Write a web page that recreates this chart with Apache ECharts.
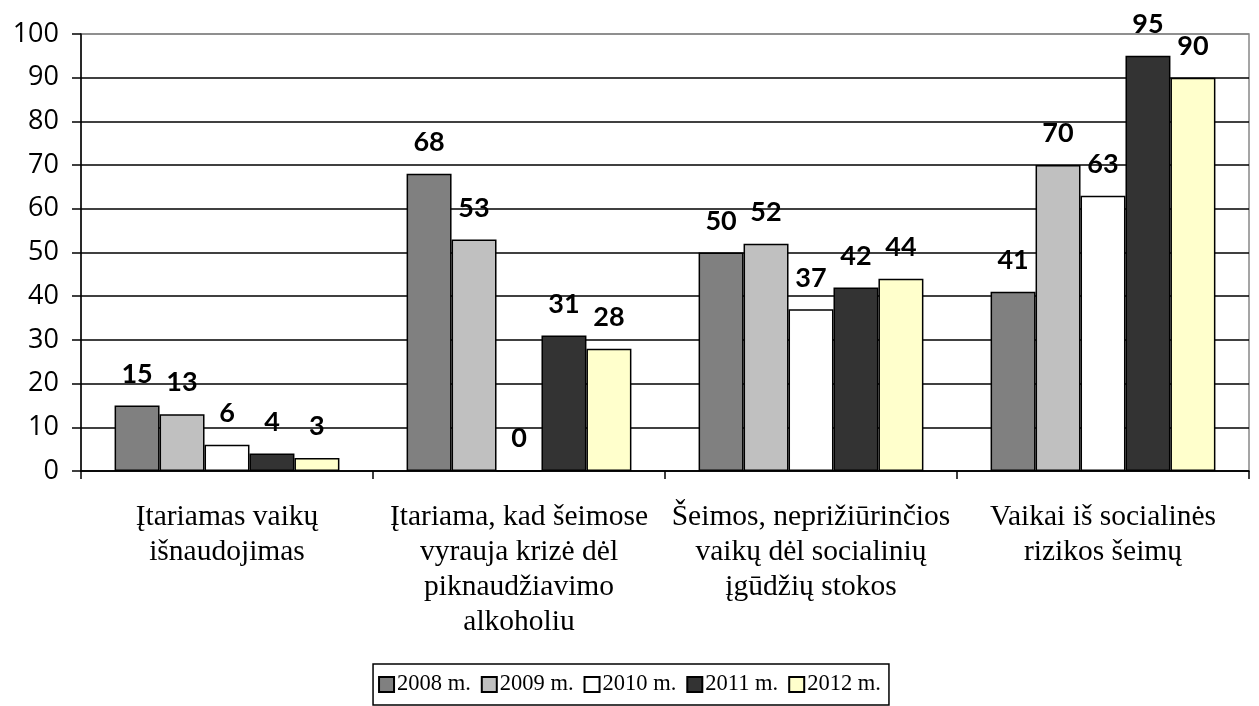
<!DOCTYPE html>
<html>
<head>
<meta charset="utf-8">
<script src="https://cdn.jsdelivr.net/npm/echarts@6/dist/echarts.min.js"></script>
<style>
  html, body { margin: 0; padding: 0; background: #fff; }
  #chart { width: 1259px; height: 706px; }
</style>
</head>
<body>
<div id="chart"></div>
<script>
  const categories = [
    'Įtariamas vaikų\nišnaudojimas',
    'Įtariama, kad šeimose\nvyrauja krizė dėl\npiknaudžiavimo\nalkoholiu',
    'Šeimos, neprižiūrinčios\nvaikų dėl socialinių\nįgūdžių stokos',
    'Vaikai iš socialinės\nrizikos šeimų'
  ];
  const years = ['2008 m.', '2009 m.', '2010 m.', '2011 m.', '2012 m.'];
  const v2008 = [15, 68, 50, 41];
  const v2009 = [13, 53, 52, 70];
  const v2010 = [6, 0, 37, 63];
  const v2011 = [4, 31, 42, 95];
  const v2012 = [3, 28, 44, 90];
  const colors = ['#808080', '#c0c0c0', '#ffffff', '#333333', '#ffffcc'];

  const values = [v2008, v2009, v2010, v2011, v2012];

  const chart = echarts.init(document.getElementById('chart'));

  const series = years.map((name, i) => ({
    name: name,
    type: 'bar',
    data: values[i],
    barGap: '0%',
    barCategoryGap: '23%',
    itemStyle: {
      color: colors[i],
      borderColor: '#000',
      borderWidth: 1.5
    },
    label: {
      show: true,
      position: 'top',
      distance: 18,
      color: '#000',
      fontFamily: 'Lato',
      fontWeight: 'bold',
      fontSize: 27
    }
  }));

  // gridline colours per tick index: 0..90 black, 100 grey (plot border)
  const gridColors = [];
  for (let k = 0; k < 10; k++) gridColors.push('#000');
  gridColors.push('#888');

  chart.setOption({
    animation: false,
    grid: {
      left: 81,
      right: 10,
      top: 34,
      bottom: 235,
      show: true,
      borderColor: '#888',
      borderWidth: 1.5
    },
    legend: {
      bottom: 1,
      left: 'center',
      data: years,
      icon: 'rect',
      itemWidth: 15,
      itemHeight: 15,
      itemGap: 10,
      padding: [9, 8, 9, 5],
      borderColor: '#000',
      borderWidth: 1.5,
      textStyle: {
        fontFamily: 'Liberation Serif',
        fontSize: 22.5,
        color: '#000',
        padding: [0, 0, 0, -2]
      }
    },
    xAxis: {
      type: 'category',
      data: categories,
      axisLine: { lineStyle: { color: '#000', width: 1.5 } },
      axisTick: { show: true, length: 8, inside: false, lineStyle: { color: '#000', width: 1.5 } },
      axisLabel: {
        color: '#000',
        fontFamily: 'Liberation Serif',
        fontSize: 29.5,
        lineHeight: 35,
        margin: 29,
        interval: 0
      }
    },
    yAxis: {
      type: 'value',
      min: 0,
      max: 100,
      interval: 10,
      axisLine: { show: true, lineStyle: { color: '#000', width: 1.5 } },
      axisTick: { show: true, length: 9, lineStyle: { color: '#000', width: 1.5 } },
      axisLabel: {
        color: '#000',
        fontFamily: 'Open Sans',
        fontSize: 27,
        margin: 22
      },
      splitLine: { show: true, lineStyle: { color: gridColors, width: 1.5 } }
    },
    series: series
  });
</script>
</body>
</html>
